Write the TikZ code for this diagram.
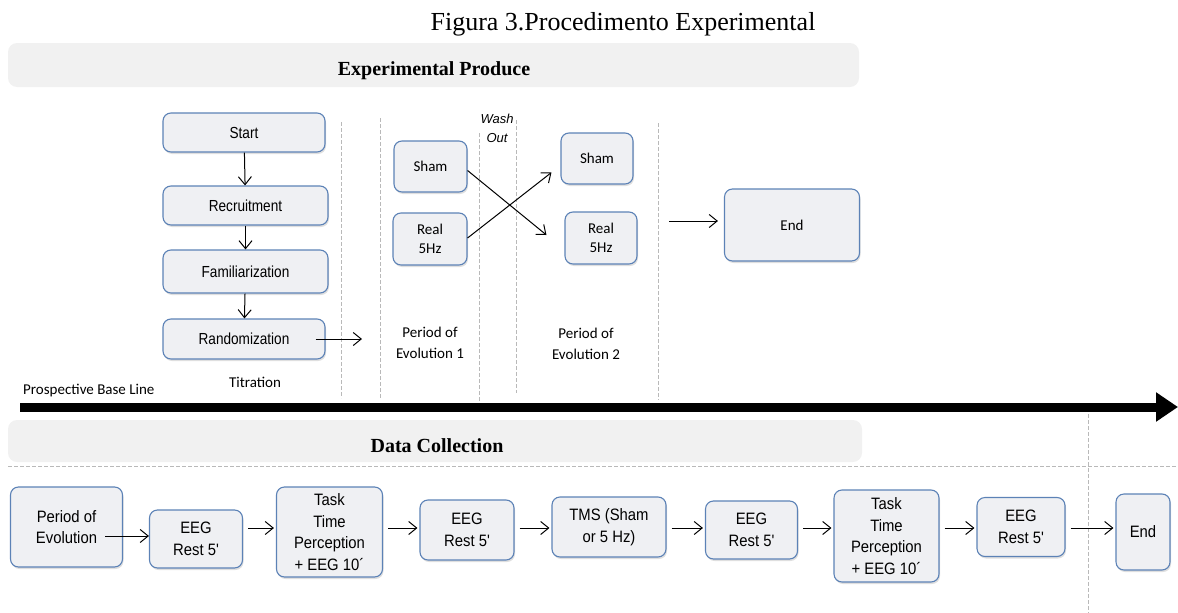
\documentclass[tikz,border=0pt]{standalone}
\usepackage{fontspec}
\setmainfont{Liberation Serif}
\newfontfamily\arialfont[FakeStretch=0.85]{Liberation Sans}
\newfontfamily\datfont[FakeStretch=0.9]{Liberation Sans}
\newfontfamily\arialplain{Liberation Sans}
\newfontfamily\calfont{Carlito}
\usetikzlibrary{arrows.meta,shadows,positioning}
\definecolor{boxfill}{RGB}{239,240,243}
\definecolor{boxline}{RGB}{92,130,182}
\definecolor{bandfill}{RGB}{241,241,241}
\definecolor{dashgray}{RGB}{185,185,185}
\tikzset{
  stepbox/.style={ draw=boxline, line width=1.1pt, fill=boxfill, rounded corners=8pt, align=center, inner sep=2pt,
    drop shadow={opacity=0.25, shadow xshift=1pt, shadow yshift=-2pt} }
}
\tikzset{
  topbox/.style={ stepbox, font=\arialfont\fontsize{16}{19}\selectfont }
}
\tikzset{
  calbox/.style={ stepbox, font=\calfont\fontsize{15}{19}\selectfont }
}
\tikzset{
  datbox/.style={ stepbox, font=\datfont\fontsize{16.5}{21.5}\selectfont }
}
\tikzset{
  caltext/.style={ align=center, inner sep=0pt, font=\calfont\fontsize{15}{21}\selectfont }
}
\tikzset{
  band/.style={ fill=bandfill, rounded corners=9pt }
}
\tikzset{
  sep/.style={ draw=dashgray, line width=0.8pt, dash pattern=on 4pt off 2pt }
}
\tikzset{
  arr/.style={ line width=1pt, -{Straight Barb[length=8pt,width=13pt]} }
}

\begin{document}
\begin{tikzpicture}[x=1pt, y=-1pt]
  \useasboundingbox (0,0) rectangle (1178,613);

  % headings
  \node[anchor=base, inner sep=0pt, font=\fontsize{26}{30}\selectfont] (title) at (623,30) {Figura 3.Procedimento Experimental};
  \fill[band] (8,43) rectangle (859,87);
  \node[anchor=base, inner sep=0pt, font=\bfseries\fontsize{20}{24}\selectfont] (prodhead) at (434,75) {Experimental Produce};
  \fill[band] (8,420) rectangle (862,462);
  \node[anchor=base, inner sep=0pt, font=\bfseries\fontsize{20}{24}\selectfont] (datahead) at (437,452) {Data Collection};

  % period separators
  \draw[sep] (341,122) -- (341,398);
  \draw[sep] (380,118) -- (380,398);
  \draw[sep] (479,133) -- (479,404);
  \draw[sep] (516,120) -- (516,393);
  \draw[sep] (658,123) -- (658,400);
  \draw[sep] (1088,414) -- (1088,613);
  \draw[sep] (8,466) -- (1178,466);

  % experimental procedure
  \node[topbox, minimum width=162pt, minimum height=39pt] (start) at (244,132.5) {Start};
  \node[topbox, minimum width=165pt, minimum height=39pt] (recr) at (245.5,205.5) {Recruitment};
  \node[topbox, minimum width=165pt, minimum height=43pt] (famil) at (245.5,271.5) {Familiarization};
  \node[topbox, minimum width=162pt, minimum height=40pt] (rand) at (244,339) {Randomization};
  \draw[arr] (start) -- (recr);
  \draw[arr] (recr) -- (famil);
  \draw[arr] (famil) -- (rand);
  \coordinate (randout) at (362,339);
  \draw[arr] ([xshift=-10pt]rand.east) -- (randout);

  \node[caltext, anchor=base] (titr) at (255,387) {Titration};
  \node[caltext, anchor=base west] (baseline) at (23,394) {Prospective Base Line};

  \node[calbox, minimum width=73pt, minimum height=51pt] (sham1) at (430.5,166.5) {Sham};
  \node[calbox, minimum width=74pt, minimum height=52pt] (real1) at (430,239) {Real\\5Hz};
  \node[calbox, minimum width=72pt, minimum height=51pt] (sham2) at (597,158.5) {Sham};
  \node[calbox, minimum width=72pt, minimum height=52pt] (real2) at (601,238) {Real\\5Hz};
  \draw[arr] ([yshift=-4pt]sham1.east) -- ([shift={(-18pt,3pt)}]real2.west);
  \draw[arr] ([yshift=1pt]real1.east) -- ([shift={(-9pt,-14pt)}]sham2.west);

  \node[align=center, inner sep=0pt, font=\arialplain\itshape\fontsize{13}{19}\selectfont] (wash) at (497,128) {Wash\\Out};
  \node[caltext] (evo1) at (430,343) {Period of\\Evolution 1};
  \node[caltext] (evo2) at (586,344) {Period of\\Evolution 2};

  \node[calbox, minimum width=135pt, minimum height=72pt] (endtop) at (792,225) {End};
  \coordinate (evo2out) at (669,221);
  \draw[arr, shorten >=6pt] (evo2out) -- (evo2out -| endtop.west);

  % time line
  \coordinate (tl0) at (20,407);
  \coordinate (tl1) at (1178,407);
  \draw[line width=9pt, -{Triangle[length=22pt,width=28pt]}] (tl0) -- (tl1);

  % data collection
  \node[datbox, minimum width=112pt, minimum height=80pt] (perevo) at (66.5,527) {Period of\\Evolution};
  \node[datbox, minimum width=93pt, minimum height=58pt] (eeg1) at (196,539) {EEG\\Rest 5'};
  \node[datbox, minimum width=106pt, minimum height=90pt] (task1) at (329.5,532) {Task\\Time\\Perception\\+ EEG 10´};
  \node[datbox, minimum width=94pt, minimum height=60pt] (eeg2) at (467,530) {EEG\\Rest 5'};
  \node[datbox, minimum width=114pt, minimum height=60pt] (tms) at (609,527) {TMS (Sham\\or 5 Hz)};
  \node[datbox, minimum width=92pt, minimum height=58pt] (eeg3) at (751.5,530) {EEG\\Rest 5'};
  \node[datbox, minimum width=105pt, minimum height=92pt] (task2) at (886.5,536) {Task\\Time\\Perception\\+ EEG 10´};
  \node[datbox, minimum width=88pt, minimum height=59pt] (eeg4) at (1021,527) {EEG\\Rest 5'};
  \node[datbox, minimum width=54pt, minimum height=76pt] (endbot) at (1143,532) {End};

  \coordinate (row1) at (0,536);
  \coordinate (row) at (0,528);
  \coordinate (perout) at ([xshift=-18pt]perevo.east);
  \draw[arr] (perout |- row1) -- (eeg1.west |- row1);
  \foreach \a/\b in {eeg1/task1, task1/eeg2, eeg2/tms, tms/eeg3, eeg3/task2, task2/eeg4, eeg4/endbot}
    \draw[arr, shorten <=5pt, shorten >=2pt] (\a.east |- row) -- (\b.west |- row);
\end{tikzpicture}
\end{document}
